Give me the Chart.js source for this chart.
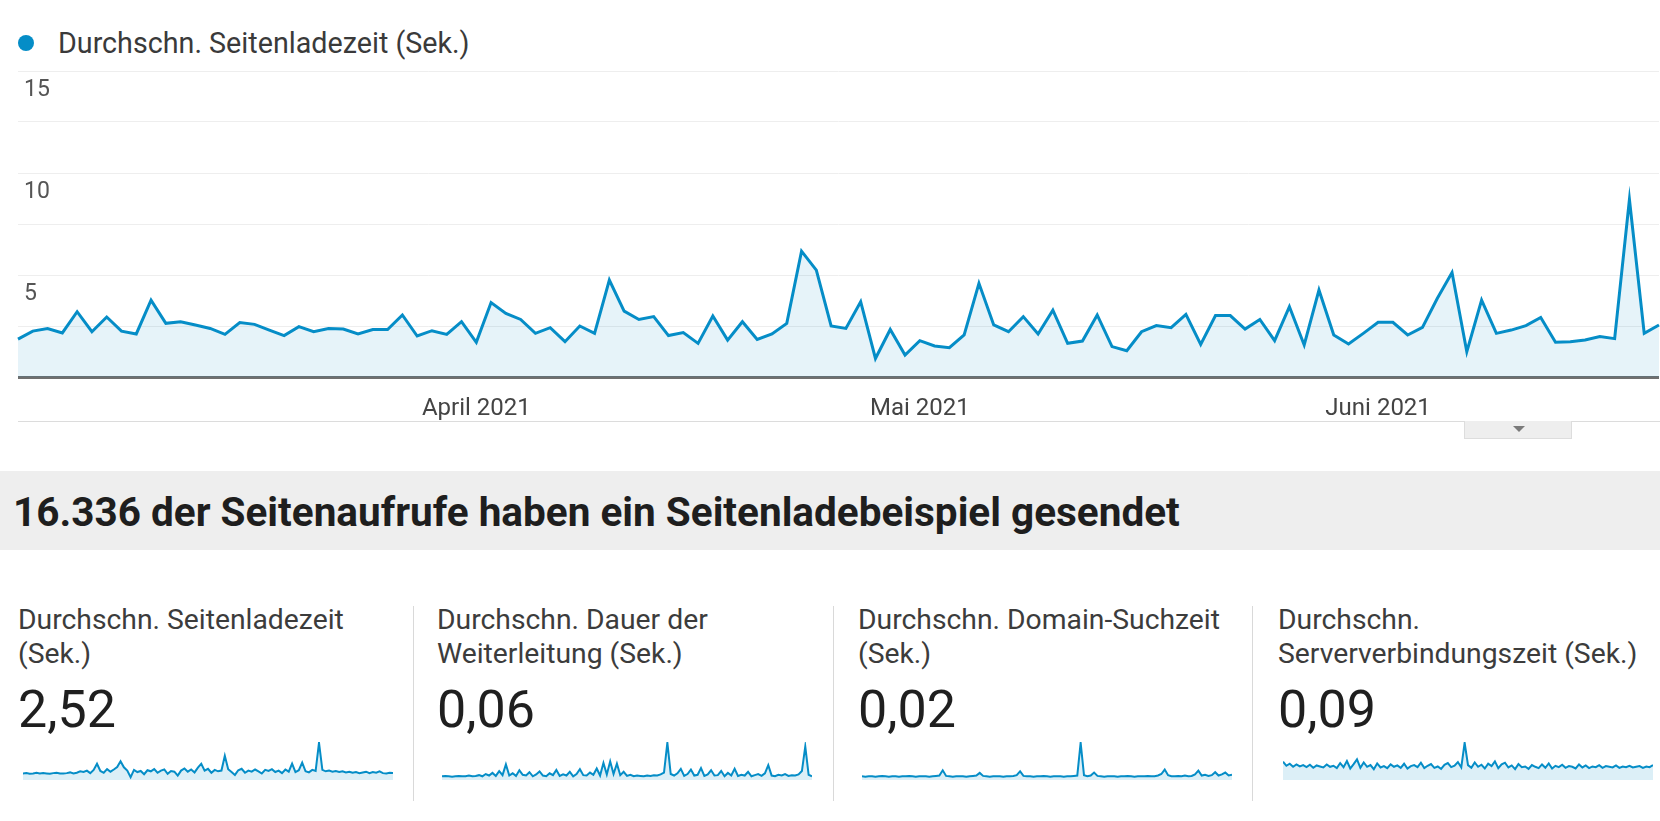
<!DOCTYPE html>
<html lang="de">
<head>
<meta charset="utf-8">
<title>Durchschn. Seitenladezeit</title>
<script src="https://cdn.jsdelivr.net/npm/chart.js@4.4.1/dist/chart.umd.min.js"></script>
<style>
  html, body { margin: 0; padding: 0; background: #fff; }
  body { width: 1660px; height: 821px; position: relative; overflow: hidden; font-family: Roboto, "Noto Sans", sans-serif; color: #333; }
  .abs { position: absolute; }
  #legend { left: 18px; top: 27px; height: 32px; line-height: 32px; font-size: 28.7px; color: #3a3a3a; white-space: nowrap; }
  #legend .dot { display: inline-block; width: 16px; height: 16px; border-radius: 50%; background: #058dc7; vertical-align: middle; margin-right: 24px; position: relative; top: -2px; }
  #main-wrap { left: 0; top: 60px; width: 1660px; height: 365px; }
  #rule { left: 18px; top: 421px; width: 1642px; height: 1px; background: #dcdcdc; }
  #tab { left: 1464px; top: 421px; width: 108px; height: 18px; background: #eeeeee; border: 1px solid #dddddd; border-top: none; box-sizing: border-box; }
  #tab::after { content: ""; position: absolute; left: 48px; top: 5px; border-left: 6px solid transparent; border-right: 6px solid transparent; border-top: 6px solid #7a7a7a; }
  #band { left: 0; top: 471px; width: 1660px; height: 79px; background: #eeeeee; }
  #band h2 { margin: 0; padding: 2px 0 0 13px; font-size: 40.5px; line-height: 79px; font-weight: 700; color: #1e1e1e; white-space: nowrap; }
  .card-title { top: 603px; font-size: 28.3px; line-height: 34px; color: #3c3c3c; white-space: nowrap; }
  .card-value { top: 684px; font-size: 52px; line-height: 52px; color: #1f1f1f; }
  .divider { top: 606px; width: 1px; height: 195px; background: #d9d9d9; }
  .spark { top: 740px; width: 370px; height: 40px; }
</style>
</head>
<body>
<div id="legend" class="abs"><span class="dot"></span>Durchschn. Seitenladezeit (Sek.)</div>
<div id="main-wrap" class="abs"><canvas id="main-chart"></canvas></div>
<div id="rule" class="abs"></div>
<div id="tab" class="abs"></div>
<div id="band" class="abs"><h2>16.336 der Seitenaufrufe haben ein Seitenladebeispiel gesendet</h2></div>
<div id="cards"></div>

<script>
"use strict";

// Daily values, 1 March 2021 onward (the screenshot cuts off around 20 June).
const START_DATE = "2021-03-01";
const LOAD_TIME = [
  1.86, 2.25, 2.38, 2.16, 3.2, 2.22, 2.94, 2.25, 2.11, 3.77, 2.63, 2.71, 2.55, 2.38, 2.09, 2.67, 2.58, 2.3, 2.03,
  2.47, 2.22, 2.38, 2.35, 2.11, 2.33, 2.33, 3.04, 2.01, 2.27, 2.09, 2.71, 1.7, 3.65, 3.12, 2.82, 2.14, 2.42, 1.73,
  2.5, 2.14, 4.75, 3.23, 2.82, 2.96, 2.03, 2.18, 1.65, 2.99, 1.81, 2.71, 1.84, 2.11, 2.63, 6.17, 5.24, 2.5, 2.38,
  3.69, 0.91, 2.33, 1.08, 1.78, 1.52, 1.44, 2.06, 4.59, 2.55, 2.22, 2.96, 2.11, 3.28, 1.65, 1.76, 3.04, 1.49, 1.29,
  2.22, 2.52, 2.42, 3.07, 1.6, 3.01, 3.01, 2.35, 2.82, 1.78, 3.45, 1.57, 4.26, 2.06, 1.62, 2.14, 2.68, 2.68, 2.06,
  2.43, 3.85, 5.12, 1.24, 3.77, 2.14, 2.3, 2.52, 2.92, 1.7, 1.73, 1.81, 1.98, 1.88, 8.7, 2.14, 2.55,
];
const MONTH_TICK_INDEX = [31, 61, 92];
const MONTH_TICK_LABELS = ["April 2021", "Mai 2021", "Juni 2021"];
const Y_MAX = 15;
const Y_STEP = 2.5;
const Y_LABELLED = [5, 10, 15];

// Summary cards under the chart
const CARD_TITLES = [
  ["Durchschn. Seitenladezeit", "(Sek.)"],
  ["Durchschn. Dauer der", "Weiterleitung (Sek.)"],
  ["Durchschn. Domain-Suchzeit", "(Sek.)"],
  ["Durchschn.", "Serververbindungszeit (Sek.)"],
];
const CARD_VALUES = ["2,52", "0,06", "0,02", "0,09"];

// Sparklines (relative units)
const SPARK_LOAD = [
  1.8, 1.9, 1.7, 1.8, 2.0, 1.8, 1.9, 1.8, 1.7, 1.9, 2.0, 1.8, 1.8, 1.9, 2.1, 1.8, 2.0, 2.4,
  2.2, 2.6, 1.9, 2.8, 4.5, 2.5, 2.0, 3.0, 2.3, 2.9, 3.6, 5.2, 3.5, 2.6, 0.8, 2.8, 2.2, 2.5,
  1.6, 2.7, 2.4, 3.0, 2.0, 2.6, 2.9, 1.7, 2.5, 2.3, 1.2, 2.6, 3.2, 2.3, 2.9, 2.1, 3.4, 4.5,
  2.6, 3.1, 2.0, 2.8, 2.4, 2.6, 6.7, 3.0, 2.2, 1.4, 2.7, 3.1, 2.0, 2.6, 2.3, 2.9, 2.4, 1.8,
  2.8, 2.5, 3.0, 2.2, 2.6, 1.9, 2.9, 2.3, 4.5, 2.2, 2.7, 4.8, 2.4, 2.1, 2.8, 2.5, 10.3, 2.8,
  2.4, 2.6, 2.3, 2.5, 2.2, 2.4, 2.1, 2.3, 2.0, 2.2, 1.9, 2.1, 2.3, 1.9, 2.2, 2.0, 2.4, 1.9, 1.8, 2.0, 1.9,
];
const SPARK_REDIRECT = [
  1.0, 1.1, 1.0, 0.9, 1.0, 1.1, 1.0, 1.0, 1.2, 1.0, 1.1, 1.3, 1.0, 1.6, 1.2, 1.9, 1.1, 2.4, 1.3, 4.2,
  1.2, 1.8, 1.1, 2.6, 1.4, 1.2, 2.1, 1.0, 1.5, 2.3, 1.2, 1.0, 1.8, 1.3, 2.7, 1.1, 1.5, 1.2, 2.2, 1.0,
  1.6, 2.9, 1.3, 1.2, 2.0, 1.4, 3.1, 1.2, 4.6, 1.5, 5.0, 1.6, 4.4, 1.3, 2.2, 1.1, 1.4, 1.0, 1.2, 1.1,
  1.0, 1.2, 1.1, 1.3, 1.2, 1.5, 2.0, 10.0, 1.6, 1.2, 1.8, 3.0, 1.1, 1.6, 2.8, 1.2, 1.4, 3.2, 1.1, 1.5,
  2.6, 1.2, 1.3, 2.4, 1.0, 1.9, 1.2, 3.0, 1.1, 1.4, 1.2, 2.2, 1.0, 1.3, 1.6, 1.1, 1.8, 4.0, 1.2, 1.0,
  1.4, 1.2, 1.6, 1.1, 1.3, 1.2, 1.5, 2.4, 9.0, 1.4, 1.0,
];
const SPARK_DNS = [
  1.0, 0.9, 1.0, 1.0, 0.9, 1.0, 1.1, 1.0, 0.9, 1.0, 1.0, 0.9, 1.0, 1.0, 1.1, 1.0, 0.9, 1.0, 1.0, 1.0,
  0.9, 1.0, 1.1, 1.2, 2.6, 1.1, 1.0, 0.9, 1.0, 1.0, 1.0, 0.9, 1.0, 1.1, 1.2, 1.9, 1.1, 1.0, 0.9, 1.0,
  1.0, 1.0, 0.9, 1.0, 1.0, 1.1, 1.3, 2.3, 1.1, 1.0, 1.0, 0.9, 1.0, 1.0, 1.1, 1.0, 0.9, 1.0, 1.0, 1.0,
  0.9, 1.0, 1.0, 1.1, 1.2, 10.0, 1.3, 1.0, 1.2, 2.0, 1.1, 1.0, 0.9, 1.0, 1.0, 1.0, 0.9, 1.0, 1.0, 1.1,
  1.0, 0.9, 1.0, 1.0, 1.0, 1.1, 1.0, 1.0, 1.2, 1.6, 2.8, 1.3, 1.0, 1.0, 1.1, 1.0, 1.2, 1.0, 1.1, 1.5,
  2.5, 1.2, 1.4, 1.1, 1.3, 2.1, 1.2, 1.5, 2.0, 1.2, 1.4,
];
const SPARK_CONNECT = [
  5.4, 4.2, 4.8, 3.9, 4.6, 4.0, 4.4, 3.8, 4.5, 3.6, 4.3, 4.0, 3.7, 4.6, 3.9, 4.2, 3.5, 5.0, 3.8, 5.6,
  3.4, 4.7, 6.1, 3.6, 5.2, 3.9, 4.4, 3.2, 4.9, 3.7, 4.1, 3.5, 4.6, 3.9, 4.3, 3.6, 4.8, 3.4, 4.1, 4.4,
  3.8, 5.1, 3.5, 4.2, 4.7, 3.6, 4.0, 3.3, 4.5, 5.0, 3.8, 4.2, 5.3, 3.7, 11.0, 4.4, 3.6, 5.2, 3.9, 4.5,
  3.4, 4.8, 4.1, 5.5, 3.5, 4.6, 5.1, 3.7, 4.3, 3.2, 4.7, 3.8, 4.0, 3.3, 4.4, 3.9, 3.5, 4.6, 3.6, 4.9,
  3.4, 4.2, 3.8, 4.5, 3.6, 4.1, 3.9, 3.4, 4.6, 3.7, 4.3, 3.5, 4.0, 3.8, 4.4, 3.6, 4.1, 3.9, 3.7, 4.3,
  3.6, 4.0, 3.8, 4.2, 3.7, 3.9, 4.1, 3.6, 4.0, 3.8, 4.4,
];
const SPARKS = [SPARK_LOAD, SPARK_REDIRECT, SPARK_DNS, SPARK_CONNECT];

const BLUE = "#058dc7";
const FILL = "rgba(5,141,199,0.10)";

function dayLabels(n) {
  const d0 = new Date(START_DATE + "T00:00:00Z");
  return Array.from({ length: n }, (_, i) => {
    const d = new Date(d0.getTime() + i * 86400000);
    return d.toISOString().slice(0, 10);
  });
}

/* ---- main chart ---- */

new Chart(document.getElementById("main-chart"), {
  type: "line",
  data: {
    labels: dayLabels(LOAD_TIME.length),
    datasets: [{
      label: "Durchschn. Seitenladezeit (Sek.)",
      data: LOAD_TIME,
      borderColor: BLUE,
      backgroundColor: FILL,
      borderWidth: 3,
      fill: "origin",
      tension: 0,
      pointRadius: 0,
      borderJoinStyle: "miter",
    }],
  },
  options: {
    responsive: true,
    maintainAspectRatio: false,
    animation: false,
    layout: { padding: { left: 18, right: 1, top: 11, bottom: 0 } },
    plugins: { legend: { display: false }, tooltip: { enabled: false } },
    scales: {
      x: {
        offset: false,
        grid: { display: false },
        border: { display: false },
        // fixed axis band; no extra side padding for the (empty) edge labels
        afterFit: (axis) => { axis.height = 48; axis.paddingLeft = 0; axis.paddingRight = 0; },
        ticks: {
          autoSkip: false,
          maxRotation: 0,
          padding: 10,
          color: "#444",
          font: { family: "Roboto", size: 24 },
          callback: (v, i) => {
            const k = MONTH_TICK_INDEX.indexOf(i);
            return k >= 0 ? MONTH_TICK_LABELS[k] : "";
          },
        },
      },
      y: {
        min: 0,
        max: Y_MAX,
        border: { display: false },
        afterFit: (axis) => { axis.width = 0; axis.paddingTop = 0; axis.paddingBottom = 0; },
        grid: {
          drawTicks: false,
          color: (c) => (c.tick.value === 0 ? "#6f6f6f" : "#eeeeee"),
          lineWidth: (c) => (c.tick.value === 0 ? 3 : 1),
        },
        ticks: {
          stepSize: Y_STEP,
          mirror: true,
          padding: 6,
          labelOffset: 19,
          color: "#555",
          font: { family: "Roboto", size: 23 },
          callback: (v) => (Y_LABELLED.includes(v) ? String(v) : ""),
        },
      },
    },
  },
});

/* ---- summary cards ---- */

const CARD_LEFT = [18, 437, 858, 1278];
const SPARK_LEFT = [23, 442, 862, 1283];
const DIVIDER_LEFT = [413, 833, 1252];
const cards = document.getElementById("cards");

CARD_TITLES.forEach((lines, i) => {
  const t = document.createElement("div");
  t.className = "abs card-title";
  t.style.left = CARD_LEFT[i] + "px";
  t.innerHTML = lines.join("<br>");
  const v = document.createElement("div");
  v.className = "abs card-value";
  v.style.left = CARD_LEFT[i] + "px";
  v.textContent = CARD_VALUES[i];
  const wrap = document.createElement("div");
  wrap.className = "abs spark";
  wrap.style.left = SPARK_LEFT[i] + "px";
  const cv = document.createElement("canvas");
  wrap.appendChild(cv);
  cards.append(t, v, wrap);

  const data = SPARKS[i];
  new Chart(cv, {
    type: "line",
    data: {
      labels: data.map((_, j) => j),
      datasets: [{
        data,
        borderColor: BLUE,
        backgroundColor: "rgba(5,141,199,0.14)",
        borderWidth: 2,
        fill: "origin",
        pointRadius: 0,
        tension: 0,
      }],
    },
    options: {
      responsive: true,
      maintainAspectRatio: false,
      animation: false,
      layout: { padding: { top: 2, bottom: 0, left: 0, right: 0 } },
      plugins: { legend: { display: false }, tooltip: { enabled: false } },
      scales: {
        x: { display: false, offset: false },
        y: { display: false, min: 0, max: Math.max(...data) * 1.02 },
      },
    },
  });
});

DIVIDER_LEFT.forEach((x) => {
  const d = document.createElement("div");
  d.className = "abs divider";
  d.style.left = x + "px";
  cards.appendChild(d);
});
</script>
</body>
</html>
